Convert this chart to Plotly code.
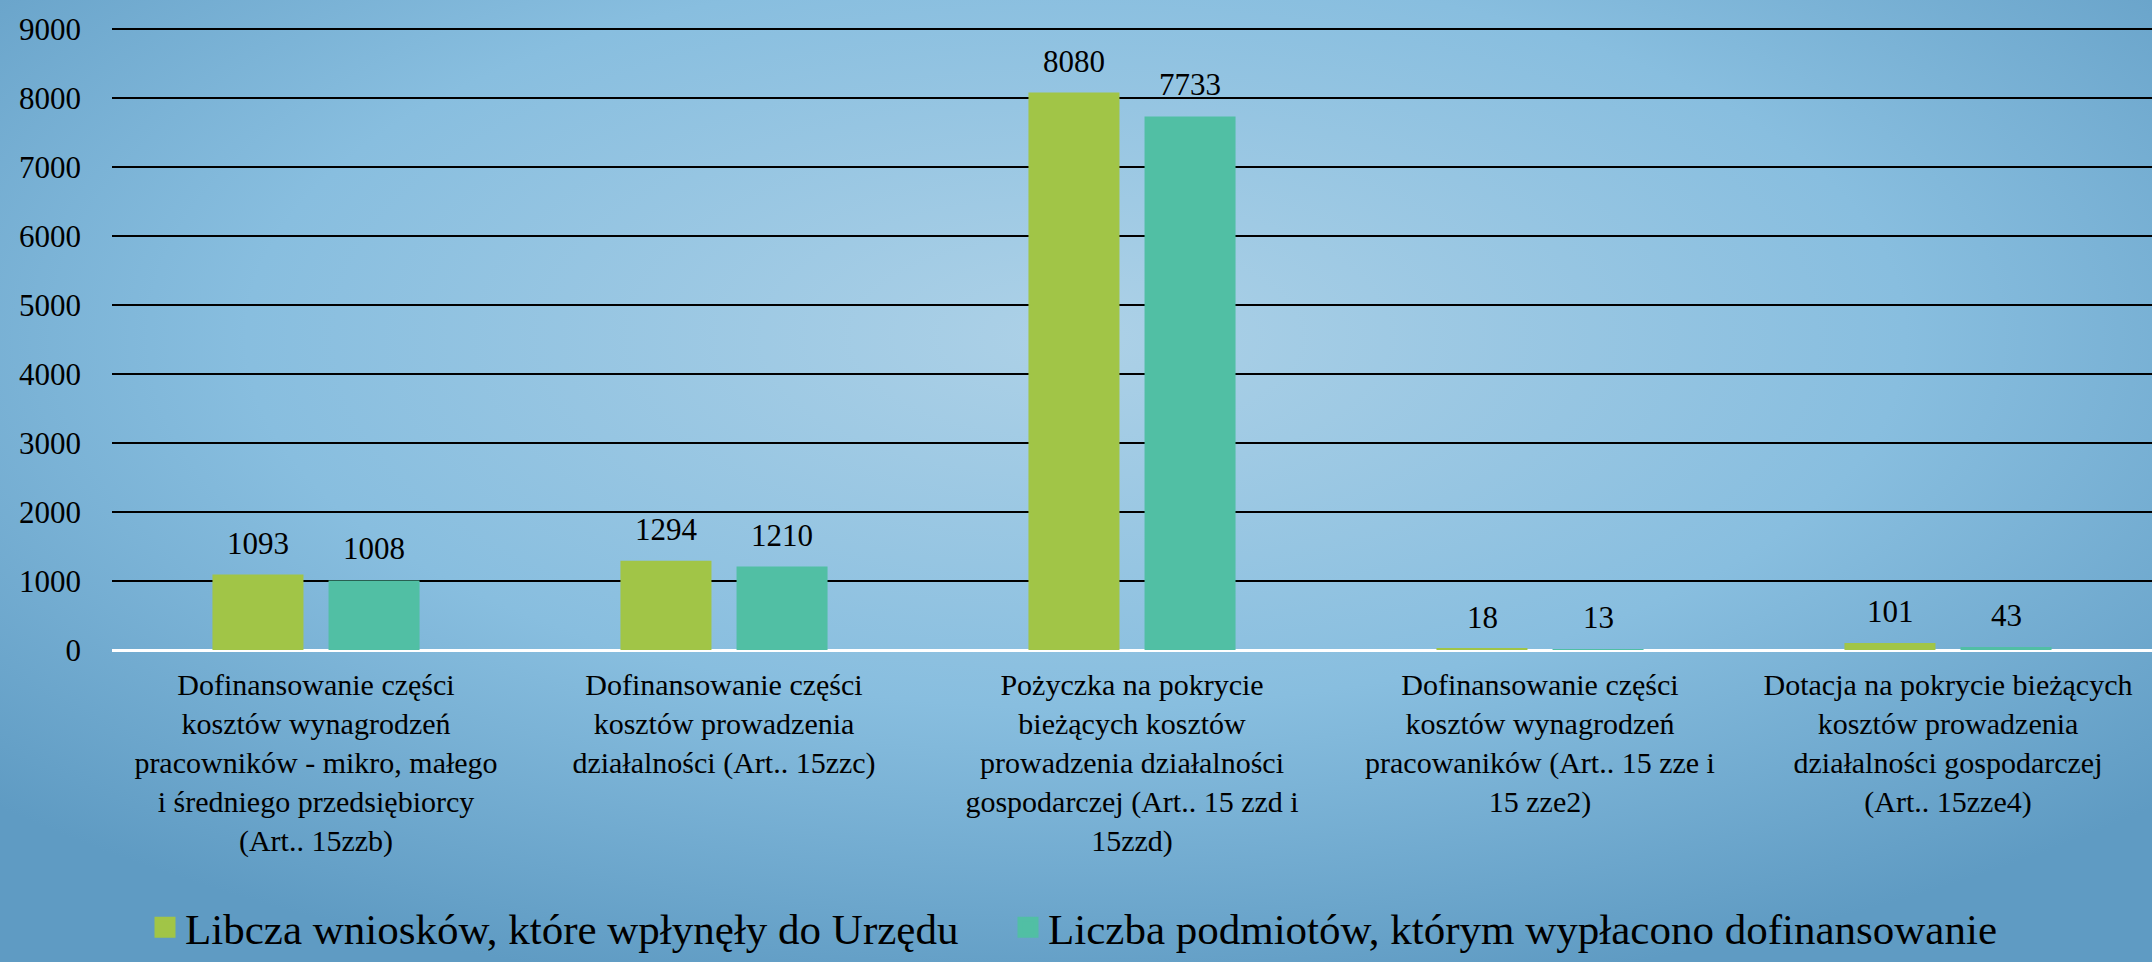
import base64
import plotly.graph_objects as go

categories = [
    "Dofinansowanie części<br>kosztów wynagrodzeń<br>pracowników - mikro, małego<br>i średniego przedsiębiorcy<br>(Art.. 15zzb)",
    "Dofinansowanie części<br>kosztów prowadzenia<br>działalności (Art.. 15zzc)",
    "Pożyczka na pokrycie<br>bieżących kosztów<br>prowadzenia działalności<br>gospodarczej (Art.. 15 zzd i<br>15zzd)",
    "Dofinansowanie części<br>kosztów wynagrodzeń<br>pracowaników (Art.. 15 zze i<br>15 zze2)",
    "Dotacja na pokrycie bieżących<br>kosztów prowadzenia<br>działalności gospodarczej<br>(Art.. 15zze4)",
]
wnioski = [1093, 1294, 8080, 18, 101]
podmioty = [1008, 1210, 7733, 13, 43]
series_names = [
    "Libcza wniosków, które wpłynęły do Urzędu",
    "Liczba podmiotów, którym wypłacono dofinansowanie",
]
y_ticks = [0, 1000, 2000, 3000, 4000, 5000, 6000, 7000, 8000, 9000]

FONT = "'Liberation Serif', 'Times New Roman', serif"
GREEN = "#a1c547"
TEAL = "#51bfa4"

W, H = 2152, 962
ML, MR, MT, MB = 112, 0, 28, 312
PW, PH = W - ML - MR, H - MT - MB

# radial blue background like the slide
svg = (
    "<svg xmlns='http://www.w3.org/2000/svg' width='2152' height='962' preserveAspectRatio='none'>"
    "<defs><radialGradient id='g' cx='50%' cy='35%' r='70%'>"
    "<stop offset='0%' stop-color='#add1e7'/>"
    "<stop offset='55%' stop-color='#88bedf'/>"
    "<stop offset='100%' stop-color='#5f9bc3'/>"
    "</radialGradient></defs>"
    "<rect width='2152' height='962' fill='url(#g)'/></svg>"
)
bg_src = "data:image/svg+xml;base64," + base64.b64encode(svg.encode()).decode()

fig = go.Figure()
fig.add_trace(go.Bar(x=categories, y=wnioski, name=series_names[0], showlegend=False,
                     marker=dict(color=GREEN, line=dict(width=0))))
fig.add_trace(go.Bar(x=categories, y=podmioty, name=series_names[1], showlegend=False,
                     marker=dict(color=TEAL, line=dict(width=0))))
# legend entries with bigger square swatches, one legend box per series
for name, col, leg in zip(series_names, [GREEN, TEAL], ["legend", "legend2"]):
    fig.add_trace(go.Scatter(x=[None], y=[None], mode="markers", name=name, legend=leg,
                             marker=dict(symbol="square", size=16, color=col,
                                         line=dict(color=col, width=5))))

# value labels above bars
for vals, shift in [(wnioski, -58), (podmioty, 58)]:
    for c, v in zip(categories, vals):
        fig.add_annotation(x=c, y=v, text=str(v), showarrow=False, xshift=shift,
                           yanchor="bottom", yshift=12,
                           font=dict(family=FONT, size=31, color="black"))

legend_style = dict(orientation="h", xref="container", yref="container",
                    xanchor="left", y=0.036, yanchor="middle",
                    font=dict(family=FONT, size=43), bgcolor="rgba(0,0,0,0)")

fig.update_layout(
    width=W, height=H,
    margin=dict(l=ML, r=MR, t=MT, b=MB),
    paper_bgcolor="#6aa5cc",
    plot_bgcolor="rgba(0,0,0,0)",
    barmode="group",
    bargap=0.431,
    bargroupgap=0.216,
    font=dict(family=FONT, color="black"),
    images=[dict(source=bg_src, xref="paper", yref="paper",
                 x=-ML / PW, y=1 + MT / PH, sizex=W / PW, sizey=H / PH,
                 xanchor="left", yanchor="top", sizing="stretch", layer="below")],
    legend=dict(legend_style, x=145 / W),
    legend2=dict(legend_style, x=1008 / W),
    xaxis=dict(showgrid=False, showline=False, ticks="", zeroline=False,
               tickfont=dict(family=FONT, size=30), ticklabelstandoff=14),
    yaxis=dict(range=[0, 9015], tickvals=y_ticks, showgrid=True, gridcolor="black", gridwidth=2,
               zeroline=True, zerolinecolor="white", zerolinewidth=3,
               tickfont=dict(family=FONT, size=31), ticklabelstandoff=30),
)

fig.write_html("out.html", config={"displayModeBar": False},
               post_script="document.body.style.margin='0';")
